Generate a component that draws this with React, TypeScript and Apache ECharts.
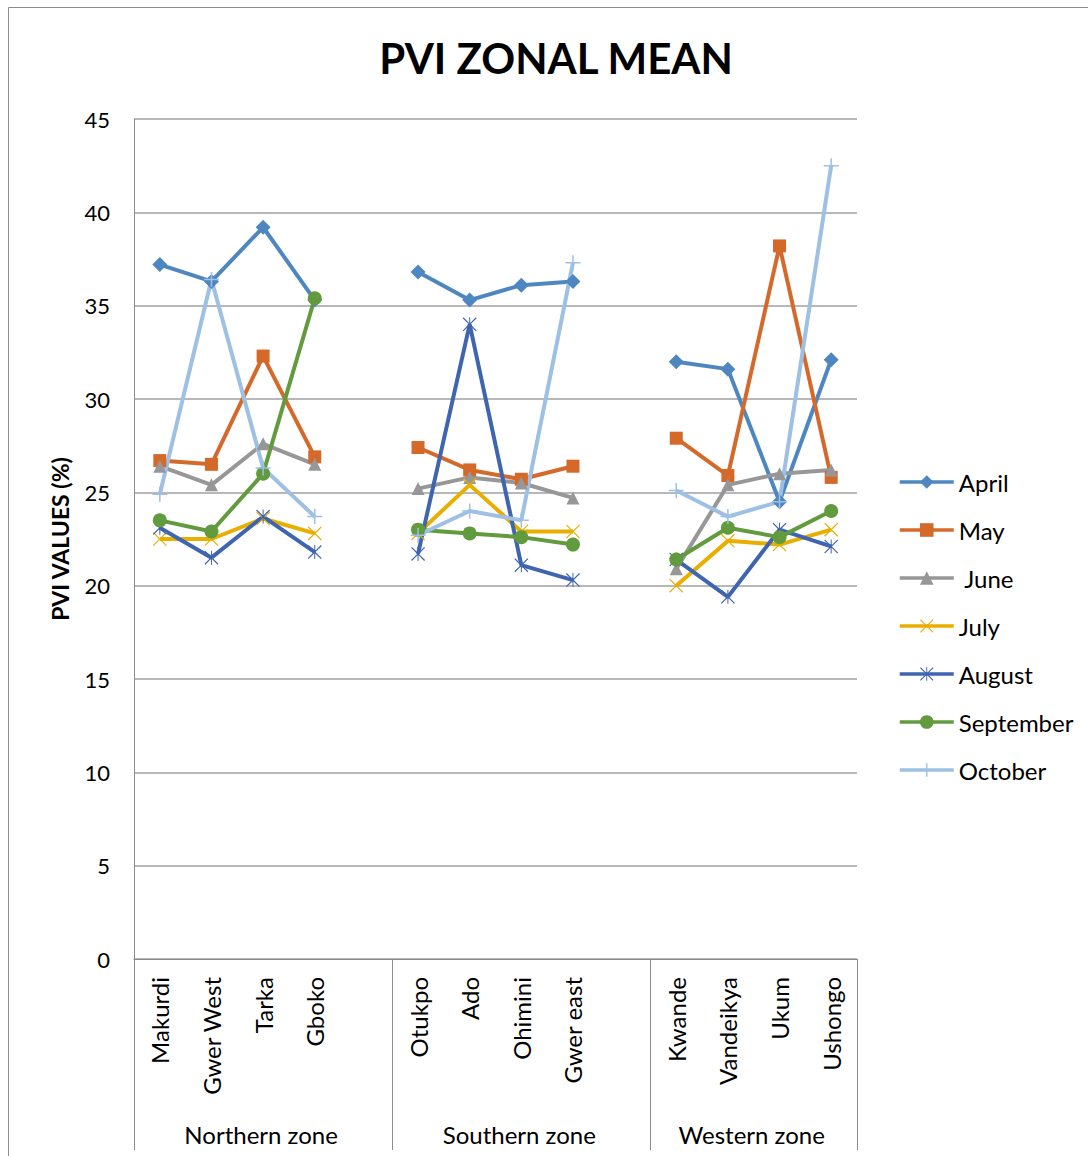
import React, { useEffect, useRef } from "react";
import * as echarts from "echarts";

const zones = ["Northern zone", "Southern zone", "Western zone"];
const districts = [
  ["Makurdi", "Gwer West", "Tarka", "Gboko"],
  ["Otukpo", "Ado", "Ohimini", "Gwer east"],
  ["Kwande", "Vandeikya", "Ukum", "Ushongo"],
];
const yTicks = [0, 5, 10, 15, 20, 25, 30, 35, 40, 45];

const april = [37.2, 36.3, 39.2, 35.3, 36.8, 35.3, 36.1, 36.3, 32.0, 31.6, 24.5, 32.1];
const may = [26.7, 26.5, 32.3, 26.9, 27.4, 26.2, 25.7, 26.4, 27.9, 25.9, 38.2, 25.8];
const june = [26.4, 25.4, 27.6, 26.5, 25.2, 25.8, 25.5, 24.7, 20.9, 25.4, 26.0, 26.2];
const july = [22.5, 22.5, 23.6, 22.8, 22.8, 25.4, 22.9, 22.9, 20.0, 22.4, 22.2, 23.0];
const august = [23.1, 21.5, 23.7, 21.8, 21.7, 34.0, 21.1, 20.3, 21.4, 19.4, 23.0, 22.1];
const september = [23.5, 22.9, 26.0, 35.4, 23.0, 22.8, 22.6, 22.2, 21.4, 23.1, 22.6, 24.0];
const october = [24.9, 36.4, 26.3, 23.7, 22.7, 24.0, 23.5, 37.3, 25.1, 23.7, 24.5, 42.5];

const FONT = "Lato, 'Open Sans', sans-serif";

const PLUS = "path://M9,0H11V9H20V11H11V20H9V11H0V9H9Z";
const XMARK =
  "path://M0,1.2L1.2,0L10,8.8L18.8,0L20,1.2L11.2,10L20,18.8L18.8,20L10,11.2L1.2,20L0,18.8L8.8,10Z";
const ASTER =
  "path://M0,1.2L1.2,0L10,8.8L18.8,0L20,1.2L11.2,10L20,18.8L18.8,20L10,11.2L1.2,20L0,18.8L8.8,10Z M9.3,0H10.7V20H9.3Z";

export default function App() {
  const ref = useRef<HTMLDivElement>(null);
  useEffect(() => {
    document.body.style.margin = "0";
    const chart = echarts.init(ref.current!, undefined, { renderer: "svg" });

    // Build category list with one blank slot between zones
    const categories: string[] = [];
    districts.forEach((d, i) => {
      categories.push(...d);
      if (i < districts.length - 1) categories.push(" ".repeat(i + 1));
    });
    const withGaps = (arr: number[]) => {
      const out: (number | null)[] = [];
      let k = 0;
      districts.forEach((d, i) => {
        d.forEach(() => out.push(arr[k++]));
        if (i < districts.length - 1) out.push(null);
      });
      return out;
    };

    const gridLeft = 134;
    const gridRight = 857;
    const gridTop = 119;
    const gridBottom = 959;
    const catW = (gridRight - gridLeft) / categories.length;

    const defs = [
      { name: "April", data: april, color: "#4E87C0", symbol: "diamond", size: 15 },
      { name: "May", data: may, color: "#D4692A", symbol: "rect", size: 13 },
      { name: " June", data: june, color: "#979797", symbol: "triangle", size: 13 },
      { name: "July", data: july, color: "#E8AE00", symbol: XMARK, size: 14 },
      { name: "August", data: august, color: "#3F65B1", symbol: ASTER, size: 14 },
      { name: "September", data: september, color: "#629A3E", symbol: "circle", size: 14 },
      { name: "October", data: october, color: "#9DC0E4", symbol: PLUS, size: 15 },
    ];

    // zone boundary lines and labels
    const graphics: any[] = [];
    const bounds: number[] = [gridLeft];
    let idx = 0;
    districts.forEach((d, i) => {
      const start = idx;
      idx += d.length + (i < districts.length - 1 ? 1 : 0);
      const x0 = gridLeft + start * catW;
      const x1 = gridLeft + idx * catW;
      bounds.push(x1);
      graphics.push({
        type: "text",
        x: (x0 + x1) / 2 - 2,
        y: 1134,
        style: {
          text: zones[i],
          fontFamily: FONT,
          fontSize: 24,
          fill: "#000",
          textAlign: "center",
          textVerticalAlign: "middle",
        },
      });
    });
    bounds.forEach((bx) => {
      graphics.push({
        type: "line",
        shape: { x1: Math.round(bx) + 0.5, y1: gridBottom, x2: Math.round(bx) + 0.5, y2: 1150 },
        style: { stroke: "#8c8c8c", lineWidth: 1 },
      });
    });
    graphics.push({
      type: "rect",
      shape: { x: 8.5, y: 7.5, width: 1200, height: 1200 },
      style: { fill: "none", stroke: "#8c8c8c", lineWidth: 1 },
      silent: true,
    });
    graphics.push({
      type: "text",
      x: 556,
      y: 58,
      style: {
        text: "PVI ZONAL MEAN",
        fontFamily: FONT,
        fontSize: 42,
        fontWeight: "bold",
        fill: "#000",
        textAlign: "center",
        textVerticalAlign: "middle",
      },
    });

    chart.setOption({
      animation: false,
      backgroundColor: "#fff",
      graphic: graphics,
      grid: {
        left: gridLeft,
        top: gridTop,
        width: gridRight - gridLeft,
        height: gridBottom - gridTop,
        containLabel: false,
      },
      legend: {
        orient: "vertical",
        left: 898,
        top: 470,
        padding: 0,
        itemWidth: 54,
        itemHeight: 17,
        itemGap: 24,
        lineStyle: { width: 3.5 },
        textStyle: { fontFamily: FONT, fontSize: 24, color: "#000", lineHeight: 24 },
        data: defs.map((d) => d.name),
      },
      xAxis: {
        type: "category",
        data: categories,
        boundaryGap: true,
        axisLine: { show: true, lineStyle: { color: "#8c8c8c", width: 1 } },
        axisTick: { show: false },
        axisLabel: {
          interval: 0,
          rotate: 90,
          margin: 18,
          fontFamily: FONT,
          fontSize: 24,
          color: "#000",
        },
      },
      yAxis: {
        type: "value",
        min: yTicks[0],
        max: yTicks[yTicks.length - 1],
        interval: yTicks[1] - yTicks[0],
        name: "PVI VALUES (%)",
        nameLocation: "middle",
        nameGap: 63,
        nameTextStyle: { fontFamily: FONT, fontSize: 23, fontWeight: "bold", color: "#000" },
        axisLine: { show: true, lineStyle: { color: "#8c8c8c", width: 1 } },
        axisTick: { show: false },
        splitLine: { show: true, lineStyle: { color: "#a0a0a0", width: 1.5 } },
        axisLabel: { margin: 24, fontFamily: FONT, fontSize: 22, color: "#000" },
      },
      series: defs.map((d) => ({
        name: d.name,
        type: "line",
        data: withGaps(d.data),
        connectNulls: false,
        symbol: d.symbol,
        symbolSize: d.size,
        showSymbol: true,
        lineStyle: { color: d.color, width: 4 },
        itemStyle: { color: d.color, borderWidth: 0 },
        emphasis: { disabled: true },
      })),
    });
    return () => chart.dispose();
  }, []);
  return (
    <div
      ref={ref}
      style={{ position: "absolute", left: 0, top: 0, width: 1088, height: 1156 }}
    />
  );
}
